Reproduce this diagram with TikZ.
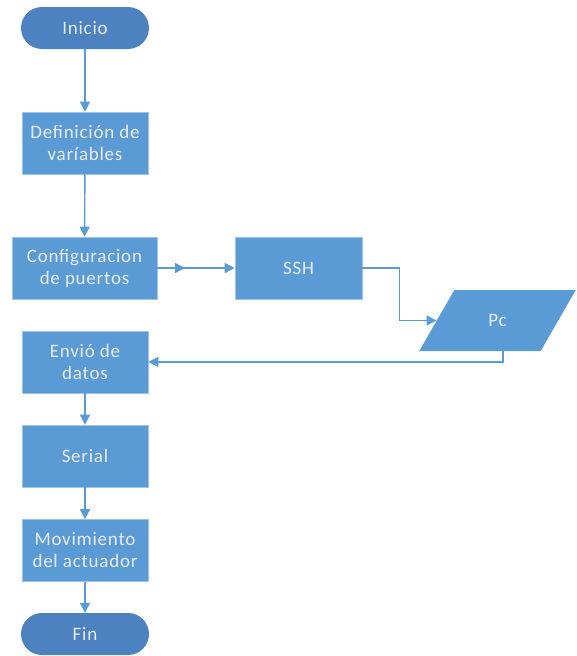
\documentclass[tikz,border=0pt]{standalone}
\usepackage{fontspec}
\setmainfont{Carlito}
\newfontfamily\boxfont[LetterSpace=4]{Carlito}
\usetikzlibrary{shapes.geometric,arrows.meta,calc}
\definecolor{boxblue}{HTML}{5B9BD5}
\definecolor{termblue}{HTML}{4C82C0}
\definecolor{lineblue}{HTML}{5B9BD5}
\tikzset{
  boxtext/.style={text=white!92!blue, font=\boxfont\fontsize{19}{22}\selectfont},
  procbox/.style={rectangle, fill=boxblue, draw=boxblue!60!white, line width=0.6pt, minimum height=62pt, inner sep=0pt, align=center, boxtext},
  termbox/.style={rectangle, rounded corners=21pt, fill=termblue, minimum width=128pt, minimum height=42pt, inner sep=0pt, boxtext},
  iobox/.style={trapezium, trapezium left angle=59, trapezium right angle=121, trapezium stretches=true, fill=boxblue, minimum width=157pt, minimum height=61pt, inner sep=0pt, boxtext},
  conn/.style={draw=lineblue, line width=1.4pt, -{Triangle[length=10pt,width=10pt]}}
}
\begin{document}
\begin{tikzpicture}[x=1pt,y=-1pt]
\useasboundingbox (0,0) rectangle (577,656);
\node[termbox] (ini) at (85,28) {Inicio};
\node[procbox, minimum width=126pt] (def) at (85,143) {Definición de\\varíables};
\node[procbox, minimum width=145pt] (conf) at (84.5,268) {Configuracion\\de puertos};
\node[procbox, minimum width=127pt] (ssh) at (298.5,268) {SSH};
\node[iobox] (pc) at (497.5,320.5) {Pc};
\node[procbox, minimum width=126pt] (env) at (85,362) {Envió de\\datos};
\node[procbox, minimum width=126pt] (ser) at (85,456) {Serial};
\node[procbox, minimum width=126pt] (mov) at (85,550.5) {Movimiento\\del actuador};
\node[termbox] (fin) at (85,634) {Fin};
\coordinate (mid) at (185,268);
\draw[conn] (ini) -- (def);
\draw[conn] (def) -- (conf);
\draw[conn] (conf.east) -- (ssh.west);
\draw[conn] (conf.east) -- (mid);
\draw[conn, line width=1.1pt] (ssh.east) -- ++(37,0) |- (pc.west);
\draw[conn, line width=1.1pt] ([xshift=5.5pt]pc.south) |- (env.east);
\draw[conn] (env) -- (ser);
\draw[conn] (ser) -- (mov);
\draw[conn] (mov) -- (fin);
\end{tikzpicture}
\end{document}
